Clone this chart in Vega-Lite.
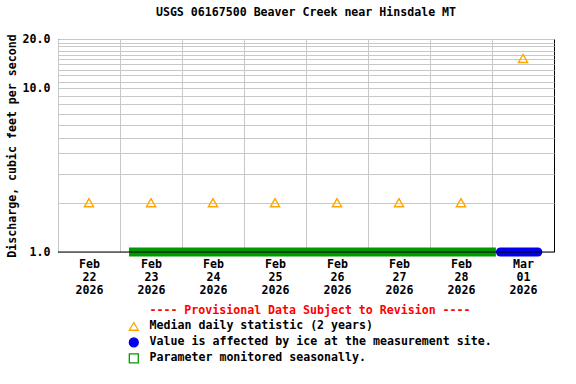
{
  "$schema": "https://vega.github.io/schema/vega-lite/v6.json",
  "width": 496,
  "height": 213,
  "autosize": "none",
  "padding": {"left": 58, "top": 39, "right": 22, "bottom": 132},
  "background": "white",
  "title": {"text": "USGS 06167500 Beaver Creek near Hinsdale MT", "anchor": "middle", "offset": 14, "font": "DejaVu Sans Mono", "fontSize": 11.6, "fontWeight": "bold", "color": "black"},
  "datasets": {
    "median": [
      {"date": "2026-02-22T12:00:00Z", "value": 2.0, "series": "Median daily statistic (2 years)"},
      {"date": "2026-02-23T12:00:00Z", "value": 2.0, "series": "Median daily statistic (2 years)"},
      {"date": "2026-02-24T12:00:00Z", "value": 2.0, "series": "Median daily statistic (2 years)"},
      {"date": "2026-02-25T12:00:00Z", "value": 2.0, "series": "Median daily statistic (2 years)"},
      {"date": "2026-02-26T12:00:00Z", "value": 2.0, "series": "Median daily statistic (2 years)"},
      {"date": "2026-02-27T12:00:00Z", "value": 2.0, "series": "Median daily statistic (2 years)"},
      {"date": "2026-02-28T12:00:00Z", "value": 2.0, "series": "Median daily statistic (2 years)"},
      {"date": "2026-03-01T12:00:00Z", "value": 15.2, "series": "Median daily statistic (2 years)"}
    ],
    "ice": [
      {"date": "2026-03-01T03:15:00Z", "value": 1, "series": "Value is affected by ice at the measurement site."},
      {"date": "2026-03-01T17:45:00Z", "value": 1, "series": "Value is affected by ice at the measurement site."}
    ],
    "seasonal": [
      {"date": "2026-02-23T03:30:00Z", "value": 1, "series": "Parameter monitored seasonally."},
      {"date": "2026-03-01T01:30:00Z", "value": 1, "series": "Parameter monitored seasonally."}
    ]
  },
  "layer": [
    {
      "data": {"name": "median"},
      "mark": {"type": "point", "filled": false, "shape": "triangle-up", "size": 85, "strokeWidth": 1.4, "opacity": 1},
      "encoding": {
        "x": {
          "field": "date", "type": "temporal",
          "scale": {"type": "utc", "nice": false, "domain": [{"year": 2026, "month": 2, "date": 22, "utc": true}, {"year": 2026, "month": 3, "date": 2, "utc": true}]},
          "axis": {
            "title": null,
            "values": [
              {"year": 2026, "month": 2, "date": 22, "utc": true},
              {"year": 2026, "month": 2, "date": 23, "utc": true},
              {"year": 2026, "month": 2, "date": 24, "utc": true},
              {"year": 2026, "month": 2, "date": 25, "utc": true},
              {"year": 2026, "month": 2, "date": 26, "utc": true},
              {"year": 2026, "month": 2, "date": 27, "utc": true},
              {"year": 2026, "month": 2, "date": 28, "utc": true},
              {"year": 2026, "month": 3, "date": 1, "utc": true}
            ],
            "labelExpr": "[utcFormat(datum.value, '%b'), utcFormat(datum.value, '%d'), utcFormat(datum.value, '%Y')]",
            "labelOffset": 31,
            "labelLineHeight": 13,
            "labelPadding": 6,
            "labelFlush": false,
            "labelOverlap": false,
            "labelBound": false,
            "ticks": false,
            "domain": false,
            "grid": true
          }
        },
        "y": {
          "field": "value", "type": "quantitative",
          "scale": {"type": "log", "domain": [1, 20], "nice": false},
          "axis": {
            "title": "Discharge, cubic feet per second",
            "values": [1, 2, 3, 4, 5, 6, 7, 8, 9, 10, 11, 12, 13, 14, 15, 16, 17, 18, 19, 20],
            "labelExpr": "(datum.value == 1 || datum.value == 10 || datum.value == 20) ? format(datum.value, '.1f') : ''",
            "ticks": false,
            "domain": false,
            "grid": true,
            "labelPadding": 8,
            "titlePadding": 5,
            "labelOverlap": false,
            "labelFlush": false,
            "labelBound": false
          }
        },
        "color": {
          "field": "series", "type": "nominal",
          "scale": {
            "domain": ["Median daily statistic (2 years)", "Value is affected by ice at the measurement site.", "Parameter monitored seasonally."],
            "range": ["#ffa500", "#0000ee", "#009900"]
          },
          "legend": {
            "orient": "none",
            "legendX": 70,
            "legendY": 266,
            "title": "---- Provisional Data Subject to Revision ----",
            "titleColor": "#ff0000",
            "titleFont": "DejaVu Sans Mono",
            "titleFontSize": 11.6,
            "titleFontWeight": "bold",
            "titleAnchor": "middle",
            "titleLimit": 0,
            "titlePadding": 4,
            "labelFont": "DejaVu Sans Mono",
            "labelFontSize": 11.6,
            "labelFontWeight": "bold",
            "labelColor": "black",
            "labelLimit": 0,
            "labelOffset": 10,
            "rowPadding": 1,
            "symbolSize": 80,
            "symbolStrokeWidth": 1.3,
            "symbolOpacity": 1
          }
        },
        "fill": {
          "field": "series", "type": "nominal",
          "scale": {
            "domain": ["Median daily statistic (2 years)", "Value is affected by ice at the measurement site.", "Parameter monitored seasonally."],
            "range": ["transparent", "#0000ee", "transparent"]
          }
        },
        "shape": {
          "field": "series", "type": "nominal",
          "scale": {
            "domain": ["Median daily statistic (2 years)", "Value is affected by ice at the measurement site.", "Parameter monitored seasonally."],
            "range": ["triangle-up", "circle", "square"]
          }
        }
      }
    },
    {
      "data": {"name": "ice"},
      "mark": {"type": "line", "strokeWidth": 9, "strokeCap": "round"},
      "encoding": {
        "x": {"field": "date", "type": "temporal"},
        "y": {"field": "value", "type": "quantitative"},
        "color": {"field": "series", "type": "nominal"}
      }
    },
    {
      "data": {"name": "seasonal"},
      "mark": {"type": "line", "strokeWidth": 9, "strokeCap": "butt"},
      "encoding": {
        "x": {"field": "date", "type": "temporal"},
        "y": {"field": "value", "type": "quantitative"},
        "color": {"field": "series", "type": "nominal"}
      }
    },
    {
      "data": {"values": [{}]},
      "mark": {"type": "rule", "color": "black", "strokeWidth": 1},
      "encoding": {"y": {"datum": 1}}
    }
  ],
  "config": {
    "view": {"stroke": "black", "strokeWidth": 1},
    "font": "DejaVu Sans Mono",
    "axis": {
      "labelFont": "DejaVu Sans Mono",
      "labelFontSize": 11.6,
      "labelFontWeight": "bold",
      "labelColor": "black",
      "titleFont": "DejaVu Sans Mono",
      "titleFontSize": 11.6,
      "titleFontWeight": "bold",
      "titleColor": "black",
      "gridColor": "#c8c8c8",
      "gridOpacity": 1,
      "gridWidth": 1
    }
  }
}
